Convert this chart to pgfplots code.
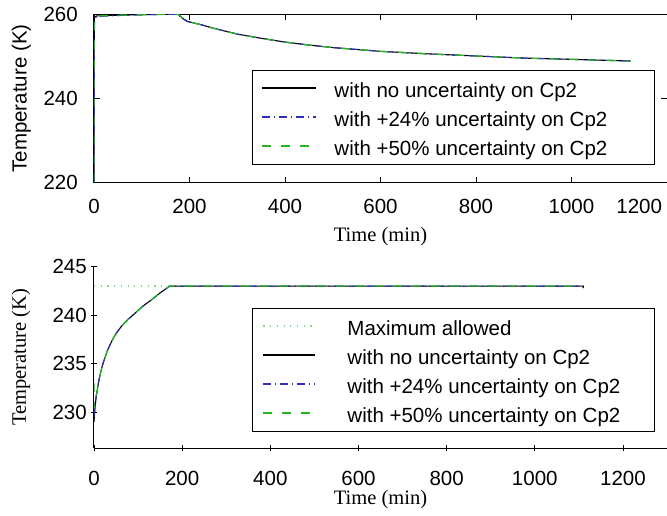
\documentclass[border=0pt]{standalone}
\usepackage{fontspec}
\setmainfont{Liberation Sans}
\newfontfamily\seriffont{Liberation Serif}
\usepackage{pgfplots}
\pgfplotsset{compat=1.18}
\definecolor{cblue}{RGB}{45,45,190}
\definecolor{cgreen}{RGB}{35,185,35}
\definecolor{clight}{RGB}{130,215,130}
\newcommand{\fs}{\fontsize{20.5}{24}\selectfont}

\pgfplotsset{
  common/.style={
    scale only axis, width=573pt,
    /pgf/number format/assume math mode=true,
    /pgf/number format/1000 sep={},
    tick label style={font=\fs, inner sep=0pt},
    label style={font=\fs, inner sep=0pt},
    tick align=inside,
    major tick length=6pt,
    every tick/.style={black, line width=0.8pt},
    axis line style={line width=1pt},
    legend cell align=left,
    legend style={draw=black, line width=1pt, fill=white, font=\fs,
      inner xsep=0pt, inner ysep=4pt, row sep=1pt,
      nodes={inner sep=0pt, text height=23.3pt, text depth=4.7pt}},
  },
  blk/.style={draw=black, color=black, line width=1.1pt, solid},
  blu/.style={draw=cblue, color=cblue, line width=1.1pt, dash pattern=on 8pt off 4pt on 1pt off 4pt},
  grn/.style={draw=cgreen, color=cgreen, line width=1.2pt, dash pattern=on 9pt off 10pt},
  dot/.style={draw=clight, color=clight, line width=1.2pt, dash pattern=on 1.2pt off 5.5pt},
}

\begin{document}
\begin{tikzpicture}
\useasboundingbox (0,0) rectangle (667pt,515pt);

% ---------------- top axis ----------------
\begin{axis}[common,
  at={(94pt,332.3pt)}, anchor=south west,
  height=168.4pt,
  xmin=0, xmax=1200, ymin=220, ymax=260,
  xtick={0,200,400,600,800,1000,1200},
  xticklabels={0,200,400,600,800,1000,\makebox[0pt][r]{1200\hspace{5pt}}},
  ytick={220,240,260},
  xticklabel style={anchor=base, yshift=-30.3pt},
  yticklabel style={anchor=east, xshift=-16pt},
  xlabel={\seriffont Time (min)},
  xlabel style={at={(axis description cs:0.5,-0.3492)}, anchor=base},
  ylabel={Temperature (K)},
  ylabel style={at={(axis description cs:-0.11745,0.5)}, anchor=base},
  legend image code/.code={\path[draw=none] (0pt,0pt) -- (82pt,0pt); \draw[#1, line width=1.3pt] (10pt,0.5pt) -- (64pt,0.5pt);},
  legend style={at={(rel axis cs:0.979,0.6692)}, anchor=north east},
]
\addplot[blk] coordinates {
(0,220) (0.5,259.3) (5,259.6) (50,259.8) (100,259.9) (150,260.0) (176,260.0)
(186,259.0) (196,258.3) (225,257.5) (250,256.7) (300,255.3) (350,254.3)
(400,253.4) (450,252.7) (500,252.1) (600,251.2) (700,250.6) (800,250.1)
(900,249.6) (1000,249.3) (1124,248.9)};
\addlegendentry{\makebox[320pt][l]{with no uncertainty on Cp2}}
\addplot[blu] coordinates {
(0,220) (1,257.8) (5,259.5) (50,259.7) (100,259.9) (150,260.0) (174,260.0)
(185,259.0) (195,258.3) (225,257.5) (250,256.7) (300,255.3) (350,254.3)
(400,253.4) (450,252.7) (500,252.1) (600,251.2) (700,250.6) (800,250.1)
(900,249.6) (1000,249.3) (1124,248.9)};
\addlegendentry{\makebox[320pt][l]{with +24\% uncertainty on Cp2}}
\addplot[grn] coordinates {
(0,220) (0.5,259.4) (5,259.6) (50,259.8) (100,259.9) (150,260.0) (177,260.0)
(187,259.0) (196,258.3) (225,257.5) (250,256.7) (300,255.3) (350,254.3)
(400,253.4) (450,252.7) (500,252.1) (600,251.2) (700,250.6) (800,250.1)
(900,249.6) (1000,249.3) (1124,248.9)};
\addlegendentry{\makebox[320pt][l]{with +50\% uncertainty on Cp2}}
\end{axis}

% ---------------- bottom axis ----------------
\begin{axis}[common,
  at={(94pt,67pt)}, anchor=south west,
  height=181.3pt,
  axis x line=bottom, axis y line=left,
  axis line style={-, line width=1pt},
  xmin=0, xmax=1300, ymin=226.3, ymax=245,
  xtick={0,200,400,600,800,1000,1200},
  ytick={230,235,240,245},
  xticklabel style={anchor=base, yshift=-34pt},
  yticklabel style={anchor=east, xshift=-4pt},
  xlabel={\seriffont Time (min)},
  xlabel style={at={(axis description cs:0.5,-0.309)}, anchor=base},
  ylabel={\seriffont Temperature (K)},
  ylabel style={at={(axis description cs:-0.1187,0.5)}, anchor=base},
  legend image code/.code={\path[draw=none] (0pt,0pt) -- (95pt,0pt); \draw[#1, line width=1.3pt] (11pt,0.5pt) -- (63pt,0.5pt);},
  legend style={at={(rel axis cs:0.979,0.7722)}, anchor=north east},
]
\addplot[dot] coordinates {(0,243) (1110,243)};
\addlegendentry{\makebox[307pt][l]{Maximum allowed}}
\addplot[blk] coordinates {
(0,229.0) (2,230.3) (5,231.6) (10,233.0) (15,234.1) (21,235.1) (30,236.3)
(40,237.3) (50,238.1) (63,238.9) (78,239.6) (93,240.2) (110,240.9)
(131,241.6) (150,242.3) (172,243.0) (1110,243.0) (1110,242.8)};
\addlegendentry{\makebox[307pt][l]{with no uncertainty on Cp2}}
\addplot[blu] coordinates {
(0,229.5) (2,230.5) (5,231.7) (10,233.0) (15,234.1) (21,235.1) (30,236.3)
(40,237.3) (50,238.1) (63,238.9) (78,239.6) (93,240.2) (110,240.9)
(131,241.6) (150,242.3) (172,243.0) (1110,243.0)};
\addlegendentry{\makebox[307pt][l]{with +24\% uncertainty on Cp2}}
\addplot[grn] coordinates {
(0,233.0) (1,230.4) (3,231.0) (6,231.9) (10,233.0) (15,234.1) (21,235.1) (30,236.3)
(40,237.3) (50,238.1) (63,238.9) (78,239.6) (93,240.2) (110,240.9)
(131,241.6) (150,242.3) (172,243.0) (1110,243.0)};
\addlegendentry{\makebox[307pt][l]{with +50\% uncertainty on Cp2}}
\end{axis}
\end{tikzpicture}
\end{document}
